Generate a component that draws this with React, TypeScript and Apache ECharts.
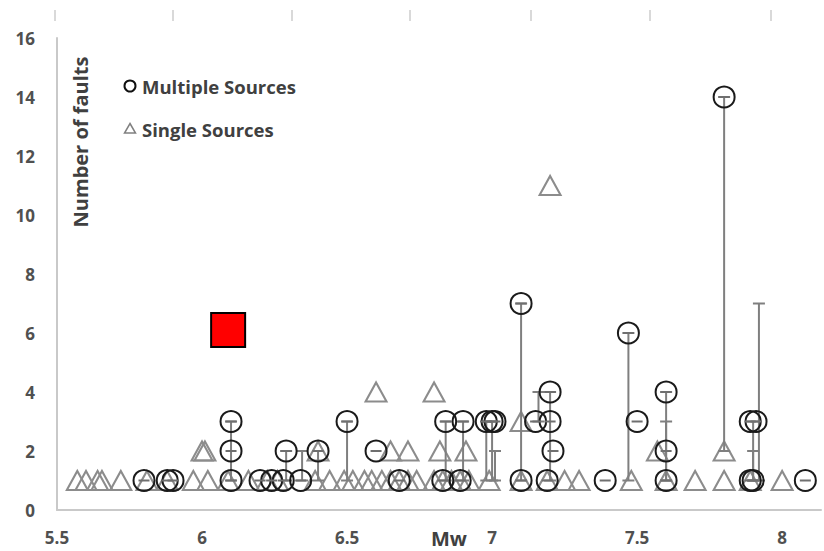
import React, { useEffect, useRef } from "react";
import * as echarts from "echarts";

// Multiple sources (circles): [Mw, number of faults]
const multipleSources: [number, number][] = [
  [5.8, 1], [5.88, 1], [5.9, 1], [6.1, 1], [6.2, 1], [6.24, 1], [6.28, 1], [6.34, 1],
  [6.68, 1], [6.83, 1], [6.89, 1], [7.1, 1], [7.19, 1], [7.39, 1], [7.6, 1], [7.89, 1],
  [7.9, 1], [8.08, 1],
  [6.1, 2], [6.29, 2], [6.4, 2], [6.6, 2], [7.21, 2], [7.6, 2],
  [6.1, 3], [6.5, 3], [6.84, 3], [6.9, 3], [6.98, 3], [7.0, 3], [7.01, 3], [7.15, 3],
  [7.2, 3], [7.5, 3], [7.89, 3], [7.91, 3],
  [7.2, 4], [7.6, 4], [7.47, 6], [7.1, 7], [7.8, 14],
];

// Single sources (triangles): [Mw, number of faults]
const singleSources: [number, number][] = [
  [5.57, 1], [5.6, 1], [5.64, 1], [5.655, 1], [5.72, 1], [5.81, 1], [5.88, 1], [5.97, 1],
  [6.02, 1], [6.09, 1], [6.16, 1], [6.225, 1], [6.26, 1], [6.39, 1], [6.44, 1], [6.49, 1],
  [6.52, 1], [6.56, 1], [6.585, 1], [6.62, 1], [6.65, 1], [6.68, 1], [6.71, 1], [6.74, 1],
  [6.8, 1], [6.83, 1], [6.86, 1], [6.89, 1], [6.92, 1], [6.99, 1], [7.1, 1], [7.19, 1],
  [7.25, 1], [7.3, 1], [7.48, 1], [7.6, 1], [7.7, 1], [7.8, 1], [7.89, 1], [8.0, 1],
  [6.0, 2], [6.01, 2], [6.4, 2], [6.65, 2], [6.71, 2], [6.82, 2], [6.91, 2], [7.57, 2], [7.8, 2],
  [7.1, 3], [6.6, 4], [6.8, 4], [7.2, 11],
];

// Error bars: [Mw, low, high]
const errorBars: [number, number, number][] = [
  [6.1, 1, 3], [6.29, 1, 2], [6.345, 1, 2], [6.4, 1, 2], [6.5, 1, 3], [6.84, 1, 3],
  [6.9, 1, 3], [6.98, 1, 3], [7.0, 1, 3], [7.01, 1, 2], [7.1, 1, 7], [7.16, 3, 4],
  [7.2, 1, 4], [7.47, 1, 6], [7.6, 1, 4], [7.6, 1, 3], [7.8, 2, 14], [7.9, 1, 3],
  [7.9, 1, 2], [7.92, 1, 7],
];

// Highlighted event (red square)
const highlighted: [number, number][] = [[6.09, 6.1]];

const FONT = "'Open Sans', 'Noto Sans', sans-serif";

export default function App() {
  const ref = useRef<HTMLDivElement>(null);

  useEffect(() => {
    if (!ref.current) return;
    const chart = echarts.init(ref.current, undefined, { renderer: "svg" });

    const topTicks = [55, 173, 292, 410, 531, 650, 771].map((x) => ({
      type: "line",
      shape: { x1: x, y1: 10, x2: x, y2: 21 },
      style: { stroke: "#d9d9d9", lineWidth: 2 },
      silent: true,
    }));

    const labelStyle = {
      fontSize: 17,
      fontWeight: "bold",
      color: "#505050",
      fontFamily: FONT,
    };

    const option: any = {
      animation: false,
      backgroundColor: "#ffffff",
      grid: { left: 57, right: 0, top: 38, bottom: 41, containLabel: false },
      xAxis: {
        type: "value",
        min: 5.5,
        max: 8.134,
        interval: 0.5,
        axisLine: { show: true, lineStyle: { color: "#c9c9c9", width: 2 } },
        axisTick: { show: false },
        splitLine: { show: false },
        axisLabel: {
          ...labelStyle,
          margin: 19,
          formatter: (v: number) =>
            Math.abs(v * 2 - Math.round(v * 2)) < 1e-6 ? String(v) : "",
        },
      },
      yAxis: {
        type: "value",
        min: 0,
        max: 16,
        interval: 2,
        axisLine: { show: true, lineStyle: { color: "#c9c9c9", width: 2 } },
        axisTick: { show: false },
        splitLine: { show: false },
        axisLabel: { ...labelStyle, margin: 22 },
      },
      graphic: [
        ...topTicks,
        {
          type: "text",
          x: 80,
          y: 142,
          rotation: Math.PI / 2,
          style: {
            text: "Number of faults",
            fontSize: 20,
            fontWeight: "bold",
            fill: "#404040",
            fontFamily: FONT,
            align: "center",
            verticalAlign: "middle",
          },
        },
        {
          type: "text",
          x: 449,
          y: 538,
          style: {
            text: "Mw",
            fontSize: 20,
            fontWeight: "bold",
            fill: "#404040",
            fontFamily: FONT,
            align: "center",
            verticalAlign: "middle",
          },
        },
        {
          type: "circle",
          shape: { cx: 130, cy: 86, r: 5.5 },
          style: { fill: "none", stroke: "#111", lineWidth: 2 },
        },
        {
          type: "text",
          x: 142,
          y: 86,
          style: {
            text: "Multiple Sources",
            fontSize: 18.5,
            fontWeight: "bold",
            fill: "#404040",
            fontFamily: FONT,
            verticalAlign: "middle",
          },
        },
        {
          type: "polygon",
          shape: { points: [[130, 123.5], [135.5, 133], [124.5, 133]] },
          style: { fill: "none", stroke: "#808080", lineWidth: 1.5 },
        },
        {
          type: "text",
          x: 142,
          y: 129,
          style: {
            text: "Single Sources",
            fontSize: 18.5,
            fontWeight: "bold",
            fill: "#404040",
            fontFamily: FONT,
            verticalAlign: "middle",
          },
        },
      ],
      series: [
        {
          name: "Single Sources",
          type: "scatter",
          data: singleSources,
          symbol: "triangle",
          symbolSize: [21, 19],
          itemStyle: { color: "rgba(0,0,0,0)", borderColor: "#8c8c8c", borderWidth: 2, opacity: 1 },
          z: 2,
        },
        {
          name: "errors",
          type: "custom",
          data: errorBars,
          z: 3,
          renderItem: (params: any, api: any) => {
            const x = api.value(0);
            const lo = api.coord([x, api.value(1)]);
            const hi = api.coord([x, api.value(2)]);
            const w = 6;
            const st = { stroke: "#7f7f7f", lineWidth: 2 };
            return {
              type: "group",
              children: [
                { type: "line", shape: { x1: lo[0], y1: lo[1], x2: hi[0], y2: hi[1] }, style: st },
                { type: "line", shape: { x1: hi[0] - w, y1: hi[1], x2: hi[0] + w, y2: hi[1] }, style: st },
                { type: "line", shape: { x1: lo[0] - w, y1: lo[1], x2: lo[0] + w, y2: lo[1] }, style: st },
              ],
            };
          },
        },
        {
          name: "Multiple Sources",
          type: "scatter",
          data: multipleSources,
          symbol: "circle",
          symbolSize: 21,
          itemStyle: { color: "rgba(0,0,0,0)", borderColor: "#1a1a1a", borderWidth: 2, opacity: 1 },
          z: 4,
        },
        {
          name: "caps",
          type: "custom",
          data: multipleSources,
          z: 5,
          renderItem: (params: any, api: any) => {
            const p = api.coord([api.value(0), api.value(1)]);
            return {
              type: "line",
              shape: { x1: p[0] - 5.5, y1: p[1], x2: p[0] + 5.5, y2: p[1] },
              style: { stroke: "#6f6f6f", lineWidth: 2 },
            };
          },
        },
        {
          name: "highlight",
          type: "scatter",
          data: highlighted,
          symbol: "rect",
          symbolSize: 34,
          itemStyle: { color: "#ff0000", borderColor: "#000000", borderWidth: 2, opacity: 1 },
          z: 6,
        },
      ],
    };

    chart.setOption(option);
    return () => chart.dispose();
  }, []);

  return <div ref={ref} style={{ width: 824, height: 551, position: "absolute", left: 0, top: 0 }} />;
}
